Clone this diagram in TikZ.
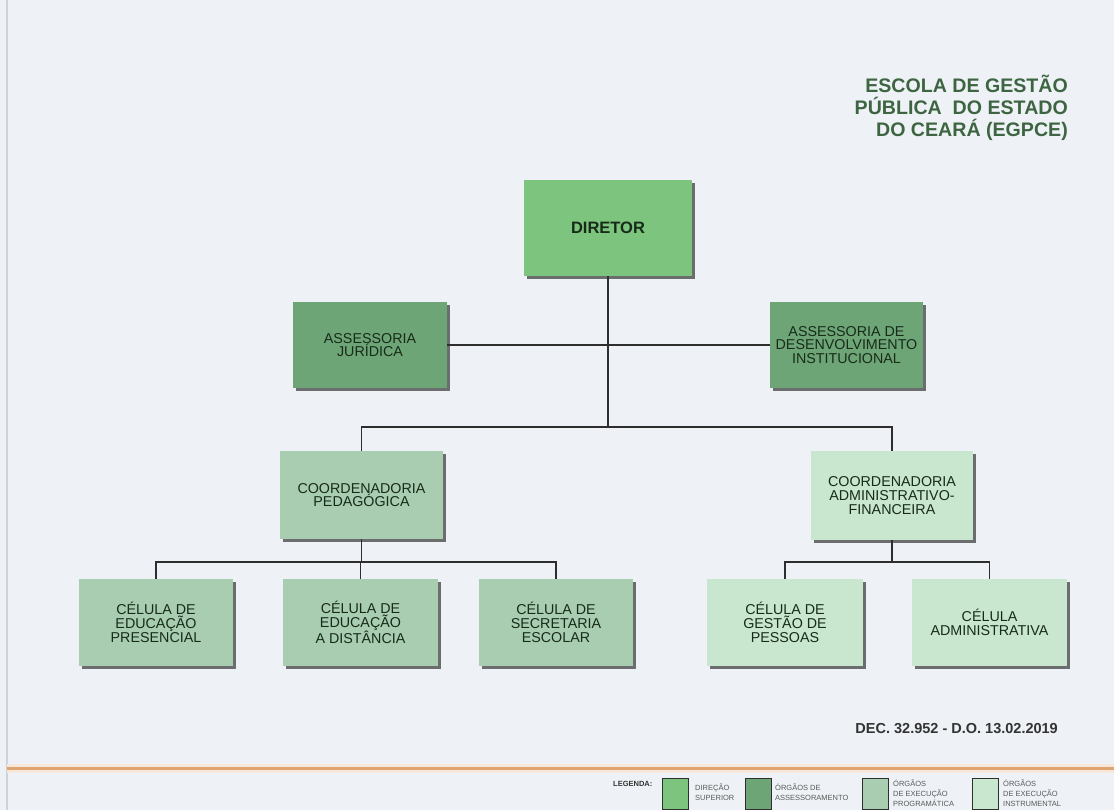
\documentclass[tikz,border=0pt]{standalone}
\usepackage{fontspec}
\setmainfont{Liberation Sans}
\usetikzlibrary{shadows}
\definecolor{bg}{HTML}{EEF2F6}
\definecolor{cDir}{HTML}{7DC47E}
\definecolor{cAss}{HTML}{6EA577}
\definecolor{cProg}{HTML}{A9CDB1}
\definecolor{cInst}{HTML}{C9E6CF}
\definecolor{boxtext}{HTML}{172B19}
\definecolor{titlecol}{HTML}{3E6541}
\definecolor{linecol}{HTML}{2E2E2E}
\definecolor{orangeline}{HTML}{E0A470}
\definecolor{leftline}{HTML}{CDD2D9}
\definecolor{legtext}{HTML}{5A5A5A}
\tikzset{
  orgbox/.style={draw=none, inner sep=0pt, align=center, text=boxtext,
    font=\fontsize{14.3}{13.8}\selectfont,
    drop shadow={shadow xshift=3pt, shadow yshift=-3pt, opacity=0.8, fill=black!70}},
  conn/.style={draw=linecol, line width=1.5pt},
  legsq/.style={draw=linecol, line width=1pt, inner sep=0pt, minimum width=26pt, minimum height=31pt},
  legtxt/.style={anchor=west, align=left, inner sep=0pt, text=legtext, font=\fontsize{7.5}{10}\selectfont},
  titletxt/.style={anchor=base east, inner sep=0pt, text=titlecol, font=\bfseries\fontsize{19.6}{22}\selectfont}
}
\begin{document}
\begin{tikzpicture}[x=1pt,y=-1pt]
\fill[bg] (0,0) rectangle (1114,810);
\useasboundingbox (0,0) rectangle (1114,810);
\draw[leftline, line width=2pt] (7,0) -- (7,810);

% title
\node[titletxt] (t1) at (1068,93) {ESCOLA DE GESTÃO};
\node[titletxt] (t2) at (1068,115) {PÚBLICA\ \ DO ESTADO};
\node[titletxt] (t3) at (1068,137) {DO CEARÁ (EGPCE)};

% boxes
\node[orgbox, fill=cDir, minimum width=168pt, minimum height=96pt, font=\bfseries\fontsize{16.5}{16.5}\selectfont] (dir) at (608,228) {DIRETOR};
\node[orgbox, fill=cAss, minimum width=154pt, minimum height=86pt] (aj) at (370,345) {ASSESSORIA\\JURÍDICA};
\node[orgbox, fill=cAss, minimum width=153pt, minimum height=86pt] (adi) at (846.5,345) {ASSESSORIA DE\\DESENVOLVIMENTO\\INSTITUCIONAL};
\node[orgbox, fill=cProg, minimum width=163pt, minimum height=88pt] (cp) at (361.5,495) {COORDENADORIA\\PEDAGÓGICA};
\node[orgbox, fill=cInst, minimum width=162pt, minimum height=89pt] (caf) at (892,495.5) {COORDENADORIA\\ADMINISTRATIVO-\\FINANCEIRA};
\node[orgbox, fill=cProg, minimum width=154pt, minimum height=87pt] (c1) at (156,622.5) {CÉLULA DE\\EDUCAÇÃO\\PRESENCIAL};
\node[orgbox, fill=cProg, minimum width=155pt, minimum height=87pt] (c2) at (360.5,622.5) {CÉLULA DE\\EDUCAÇÃO\\A DISTÂNCIA};
\node[orgbox, fill=cProg, minimum width=154pt, minimum height=87pt] (c3) at (556,622.5) {CÉLULA DE\\SECRETARIA\\ESCOLAR};
\node[orgbox, fill=cInst, minimum width=156pt, minimum height=87pt] (c4) at (785,622.5) {CÉLULA DE\\GESTÃO DE\\PESSOAS};
\node[orgbox, fill=cInst, minimum width=155pt, minimum height=87pt] (c5) at (989.5,622.5) {CÉLULA\\ADMINISTRATIVA};

% connectors
\coordinate (bus1) at (608,427);
\coordinate (bus2) at (362,562);
\coordinate (bus3) at (892,562);
\draw[conn] (aj.east) -- (adi.west);
\draw[conn] (dir.south) -- (bus1);
\draw[conn] (cp.north) |- (caf.north |- bus1) -- (caf.north);
\draw[conn] (cp.south) -- (cp.south |- bus2);
\draw[conn] (c1.north) |- (c3.north |- bus2) -- (c3.north);
\draw[conn] (c2.north) -- (c2.north |- bus2);
\draw[conn] (caf.south) -- (caf.south |- bus3);
\draw[conn] (c4.north) |- (c5.north |- bus3) -- (c5.north);

% decree
\node[anchor=base east, inner sep=0pt, text=black!80, font=\bfseries\fontsize{14.5}{14.5}\selectfont] (dec) at (1058,733) {DEC. 32.952 - D.O. 13.02.2019};

% orange rule
\draw[orangeline!25, line width=9pt] (7,768) -- (1114,768);
\draw[orangeline, line width=3pt] (7,768) -- (1114,768);

% legend
\node[anchor=base west, inner sep=0pt, text=black!80, font=\bfseries\fontsize{7.5}{7.5}\selectfont] (leg) at (613,786) {LEGENDA:};
\node[legsq, fill=cDir] (l1) at (675,794) {};
\node[legsq, fill=cAss] (l2) at (758,794) {};
\node[legsq, fill=cProg] (l3) at (875.5,794) {};
\node[legsq, fill=cInst] (l4) at (985.5,794) {};
\node[legtxt] (lt1) at (695,792) {DIREÇÃO\\SUPERIOR};
\node[legtxt] (lt2) at (775,792) {ÓRGÃOS DE\\ASSESSORAMENTO};
\node[legtxt] (lt3) at (893,793) {ÓRGÃOS\\DE EXECUÇÃO\\PROGRAMÁTICA};
\node[legtxt] (lt4) at (1003,793) {ÓRGÃOS\\DE EXECUÇÃO\\INSTRUMENTAL};
\end{tikzpicture}
\end{document}
